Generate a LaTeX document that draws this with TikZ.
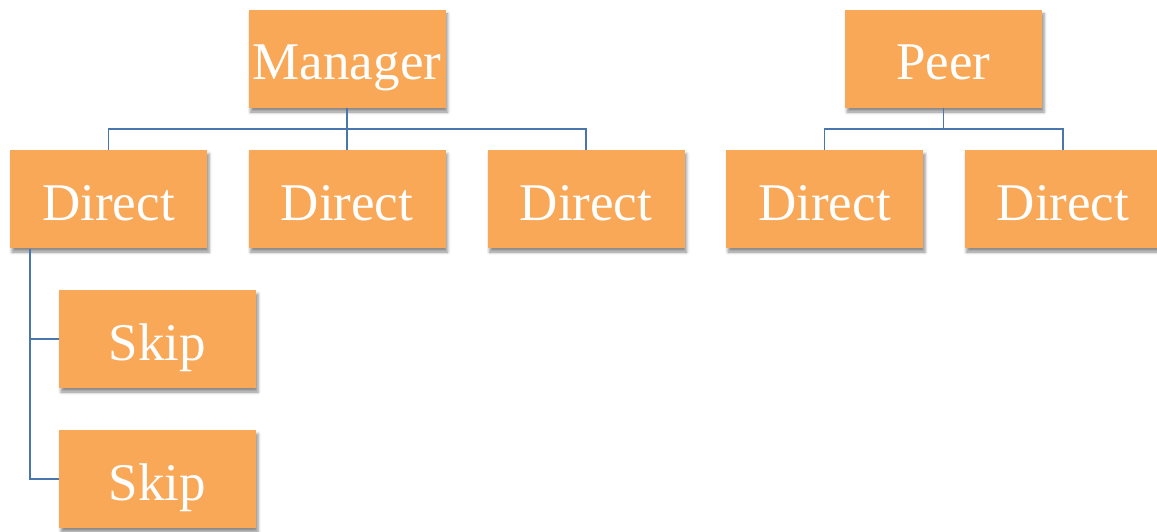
\documentclass[tikz,border=0pt]{standalone}
\usepackage{fontspec}
\setmainfont{Liberation Serif}
\usetikzlibrary{shadows.blur}
\definecolor{boxfill}{HTML}{F9A857}
\definecolor{linecol}{HTML}{4A76AE}
\tikzset{
  orgbox/.style={draw=none, fill=boxfill, minimum width=197pt, minimum height=98pt,
    inner sep=0pt, text=white, font=\fontsize{53}{56}\selectfont,
    text height=42pt, text depth=0pt,
    blur shadow={shadow xshift=2pt, shadow yshift=-4pt, shadow blur radius=3pt, shadow opacity=45}},
  conn/.style={draw=linecol, line width=1.8pt}
}
\begin{document}
\begin{tikzpicture}[x=1pt,y=-1pt]
\useasboundingbox (0,0) rectangle (1157,532);
\coordinate (mj) at (347,129);
\coordinate (pj) at (943.5,129);
\coordinate (sv) at (30,249);
\node[orgbox] (mgr) at (347,59) {Manager};
\node[orgbox] (peer) at (943.5,59) {Peer};
\node[orgbox] (d1) at (108.5,199) {Direct};
\node[orgbox] (d2) at (347,199) {Direct};
\node[orgbox] (d3) at (586,199) {Direct};
\node[orgbox] (d4) at (824.5,199) {Direct};
\node[orgbox] (d5) at (1063,199) {Direct};
\node[orgbox] (s1) at (157.5,339) {Skip};
\node[orgbox] (s2) at (157.5,479) {Skip};
\draw[conn] (mgr.south) -- (mj);
\draw[conn] (d1.north) |- (mj) -| (d3.north);
\draw[conn] (mj) -- (d2.north);
\draw[conn] (peer.south) -- (pj);
\draw[conn] (d4.north) |- (pj) -| (d5.north);
\draw[conn] (sv) |- (s1.west);
\draw[conn] (sv) |- (s2.west);
\end{tikzpicture}
\end{document}
